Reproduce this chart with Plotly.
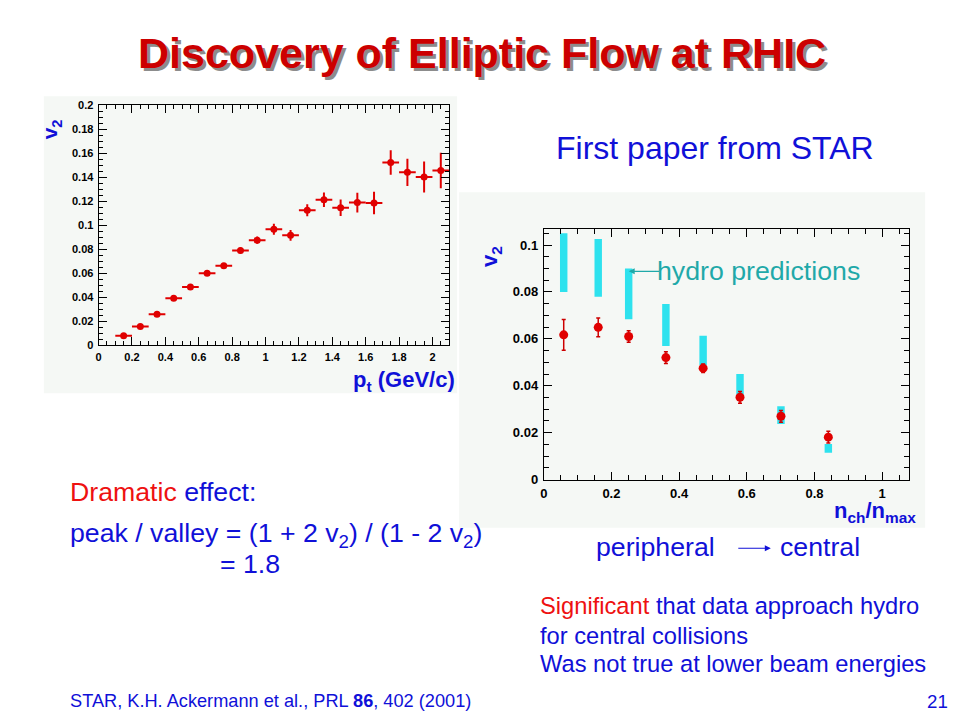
import plotly.graph_objects as go

# ---------------- data ----------------
# Left panel: v2 vs pt (STAR, minimum bias)
pt = [0.15, 0.25, 0.35, 0.45, 0.55, 0.65, 0.75, 0.85, 0.95, 1.05,
      1.15, 1.25, 1.35, 1.45, 1.55, 1.65, 1.75, 1.85, 1.95, 2.05]
v2_pt = [0.0080, 0.0157, 0.0258, 0.0391, 0.0486, 0.0600, 0.0663, 0.0790, 0.0875, 0.0966,
         0.0915, 0.1125, 0.1212, 0.1145, 0.1188, 0.1185, 0.1522, 0.1440, 0.1400, 0.1455]
v2_pt_err = [0.0010, 0.0010, 0.0012, 0.0015, 0.0015, 0.0017, 0.0020, 0.0025, 0.0030, 0.0045,
             0.0045, 0.0050, 0.0060, 0.0068, 0.0082, 0.0094, 0.0102, 0.0113, 0.0129, 0.0147]
pt_bin_half = 0.05

# Right panel: v2 vs centrality (nch/nmax)
cent = [0.059, 0.161, 0.251, 0.361, 0.471, 0.580, 0.701, 0.841]
v2_cent = [0.0617, 0.0649, 0.0610, 0.0520, 0.0475, 0.0351, 0.0270, 0.0181]
v2_cent_err = [0.0066, 0.0040, 0.0025, 0.0025, 0.0018, 0.0025, 0.0025, 0.0025]
hydro_lo = [0.0800, 0.0779, 0.0684, 0.0570, 0.0487, 0.0362, 0.0237, 0.0114]
hydro_hi = [0.1050, 0.1026, 0.0900, 0.0749, 0.0613, 0.0450, 0.0313, 0.0152]

# ---------------- style ----------------
W, H = 960, 720
RED = "#E00000"
BLUE = "#1010D8"
TXTRED = "#EE1111"
CYAN = "#2EE2EE"
TEAL = "#1FA9A9"
PANEL = "#F5F8F5"
FONT = "Liberation Sans, Arial, sans-serif"
PAD = 3  # annotation inner padding compensation


def px(x):
    return x / W


def py(y):
    return 1 - y / H


fig = go.Figure()

# hydro prediction bands
fig.add_trace(go.Bar(
    x=cent, y=[h - l for h, l in zip(hydro_hi, hydro_lo)], base=hydro_lo,
    width=0.022, marker=dict(color=CYAN, line=dict(width=0)),
    xaxis="x2", yaxis="y2", showlegend=False, hoverinfo="skip"))

# left data
fig.add_trace(go.Scatter(
    x=pt, y=v2_pt, mode="markers",
    marker=dict(color=RED, size=7, symbol="circle"),
    error_y=dict(type="data", array=v2_pt_err, color=RED, thickness=2, width=0),
    error_x=dict(type="constant", value=pt_bin_half, color=RED, thickness=2, width=0),
    xaxis="x", yaxis="y", showlegend=False))

# right data
fig.add_trace(go.Scatter(
    x=cent, y=v2_cent, mode="markers",
    marker=dict(color=RED, size=9, symbol="circle"),
    error_y=dict(type="data", array=v2_cent_err, color="#CC0000", thickness=1.5, width=2),
    xaxis="x2", yaxis="y2", showlegend=False))

tickfont = dict(family=FONT, size=11, color="black", weight="bold")


def axis_common(**kw):
    d = dict(showline=True, linecolor="black", linewidth=1, mirror="allticks",
             ticks="inside", ticklen=8, tickcolor="black", tickwidth=1,
             showgrid=False, zeroline=False, tickfont=tickfont, tick0=0,
             ticklabelstandoff=2)
    d.update(kw)
    return d


fig.update_layout(
    width=W, height=H, margin=dict(l=0, r=0, t=0, b=0),
    paper_bgcolor="white", plot_bgcolor=PANEL, showlegend=False,
    xaxis=axis_common(domain=[px(95), px(447)], anchor="y", range=[0, 2.1], dtick=0.2,
                      minor=dict(dtick=0.05, ticklen=4, ticks="inside", tickcolor="black")),
    yaxis=axis_common(domain=[py(346), py(101)], anchor="x", range=[0, 0.2], dtick=0.02,
                      minor=dict(dtick=0.005, ticklen=4, ticks="inside", tickcolor="black")),
    xaxis2=axis_common(domain=[px(542), px(909)], anchor="y2", range=[0, 1.08], dtick=0.2,
                       minor=dict(dtick=0.05, ticklen=5, ticks="inside", tickcolor="black"),
                       tickfont=dict(family=FONT, size=13, color="black", weight="bold")),
    yaxis2=axis_common(domain=[py(483), py(227)], anchor="x2", range=[0, 0.107], dtick=0.02,
                       minor=dict(dtick=0.005, ticklen=5, ticks="inside", tickcolor="black"),
                       tickfont=dict(family=FONT, size=13, color="black", weight="bold")),
)

# background panels behind the two plots
fig.add_shape(type="rect", xref="paper", yref="paper", x0=px(40), x1=px(455), y0=py(395), y1=py(92),
              fillcolor=PANEL, line=dict(width=0), layer="below")
fig.add_shape(type="rect", xref="paper", yref="paper", x0=px(457), x1=px(925), y0=py(532), y1=py(190),
              fillcolor=PANEL, line=dict(width=0), layer="below")

ann = []


def text(x, y, s, size, color, xanchor="left", bold=False, angle=0, family=FONT):
    if xanchor == "left":
        x -= PAD
    elif xanchor == "right":
        x += PAD
    ann.append(dict(xref="paper", yref="paper", x=px(x), y=py(y), text=s, showarrow=False,
                    xanchor=xanchor, yanchor="middle", textangle=angle,
                    font=dict(family=family, size=size, color=color,
                              weight="bold" if bold else "normal")))


# title with shadow
text(483, 51, "Discovery of Elliptic Flow at RHIC", 43, "#8C8C8C", "center", bold=True)
text(480, 48, "Discovery of Elliptic Flow at RHIC", 43, "#CC0000", "center", bold=True)

text(555, 145, "First paper from STAR", 32, BLUE)

# axis titles
text(47, 126, "v<sub>2</sub>", 21, BLUE, "center", bold=True, angle=-90)
text(452, 382, "p<sub>t</sub> (GeV/c)", 22, BLUE, "right", bold=True)
text(489, 255, "v<sub>2</sub>", 22, BLUE, "center", bold=True, angle=-90)
text(915, 516, "n<sub>ch</sub>/n<sub>max</sub>", 22, BLUE, "right", bold=True)

text(657, 270, "hydro predictions", 26.7, TEAL)

text(67, 496, f"<span style='color:{TXTRED}'>Dramatic</span> effect:", 26.7, BLUE)
text(67, 539, "peak / valley = (1 + 2 v<sub>2</sub>) / (1 - 2 v<sub>2</sub>)", 26.7, BLUE)
text(218, 569, "= 1.8", 26.7, BLUE)

text(595, 552, "peripheral", 26.7, BLUE)
text(780, 552, "central", 26.7, BLUE)

text(539, 612, f"<span style='color:{TXTRED}'>Significant</span> that data approach hydro", 23.7, BLUE)
text(539, 642, "for central collisions", 23.7, BLUE)
text(539, 671, "Was not true at lower beam energies", 23.7, BLUE)

text(67, 709, "STAR, K.H. Ackermann et al., PRL <b>86</b>, 402 (2001)", 18.2, BLUE)
text(947, 709, "21", 18.7, BLUE, "right")

# arrows
ann.append(dict(xref="paper", yref="paper", x=px(770), y=py(553), ax=-34, ay=0, text="",
                showarrow=True, arrowhead=2, arrowsize=1, arrowwidth=1.2, arrowcolor=BLUE,
                standoff=0))
ann.append(dict(xref="x2", yref="y2", x=cent[2], y=hydro_hi[2] - 0.0012, ax=32, ay=0, text="",
                showarrow=True, arrowhead=2, arrowsize=1, arrowwidth=1.2, arrowcolor=TEAL,
                standoff=0))

fig.update_layout(annotations=ann)

fig.write_html("out.html", config={"displayModeBar": False},
               post_script="document.body.style.margin='0';document.body.style.overflow='hidden';")
